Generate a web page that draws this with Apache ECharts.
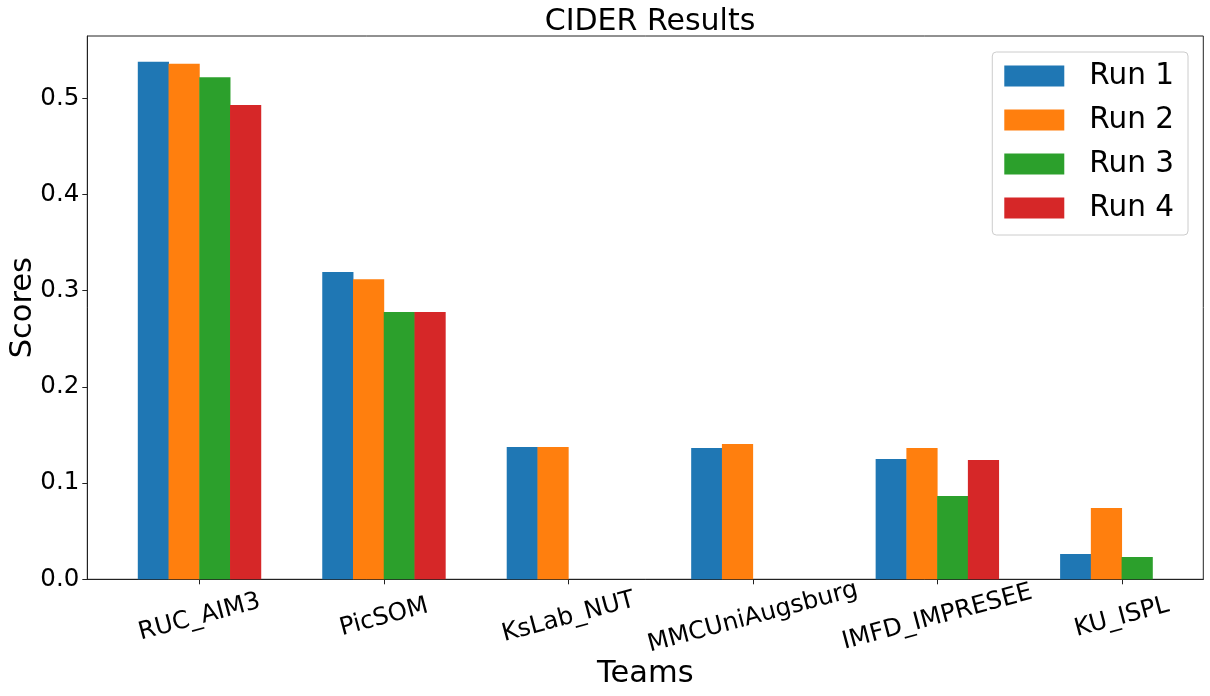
<!DOCTYPE html>
<html>
<head>
<meta charset="utf-8">
<script src="https://cdn.jsdelivr.net/npm/echarts@6/dist/echarts.min.js"></script>
<style>
  html, body { margin: 0; padding: 0; background: #fff; }
  #chart { width: 1210px; height: 696px; }
</style>
</head>
<body>
<div id="chart"></div>
<script>
// values, null = no bar drawn
const teams = ['RUC_AIM3', 'PicSOM', 'KsLab_NUT', 'MMCUniAugsburg', 'IMFD_IMPRESEE', 'KU_ISPL']
const runNames = ['Run 1', 'Run 2', 'Run 3', 'Run 4']
const run1 = [0.538, 0.3195, 0.1375, 0.1365, 0.125, 0.0263]
const run2 = [0.536, 0.312, 0.1375, 0.1406, 0.1365, 0.0741]
const run3 = [0.522, 0.278, null, null, 0.0866, 0.0232]
const run4 = [0.493, 0.278, null, null, 0.124, null]
const yTicks = [0, 0.1, 0.2, 0.3, 0.4, 0.5]
const colors = ['#1f77b4', '#ff7f0e', '#2ca02c', '#d62728']

const font = 'DejaVu Sans'
const barW = 1 / 6 // bar width in team units, 4 bars per team
const runs = [run1, run2, run3, run4]

const chart = echarts.init(document.getElementById('chart'))

const series = runs.map((vals, k) => {
  const offset = (k - 1.5) * barW
  const data = []
  vals.forEach((v, i) => {
    if (v !== null) data.push([i + offset, v])
  })
  return {
    name: runNames[k],
    type: 'bar',
    data: data,
    barWidth: 31.2,
    barGap: '-100%',
    itemStyle: { color: colors[k] },
    emphasis: { disabled: true },
    animation: false
  }
})

chart.setOption({
  animation: false,
  textStyle: { fontFamily: font },
  title: {
    text: 'CIDER Results',
    left: 645,
    textAlign: 'center',
    top: 2,
    textStyle: { fontFamily: font, fontSize: 30, fontWeight: 'normal', color: '#000' }
  },
  legend: {
    data: runNames,
    orient: 'vertical',
    right: 22,
    top: 52,
    itemWidth: 60,
    itemHeight: 21,
    itemGap: 14,
    icon: 'rect',
    padding: [9, 14, 12, 12],
    backgroundColor: '#fff',
    borderColor: '#cccccc',
    borderWidth: 1,
    borderRadius: 4,
    selectedMode: false,
    textStyle: { fontFamily: font, fontSize: 29.5, color: '#000', lineHeight: 29, padding: [0, 0, 0, 20] }
  },
  grid: {
    left: 87.3,
    right: 6.7,
    top: 36,
    bottom: 116.7,
    containLabel: false,
    outerBoundsMode: 'none',
    show: true,
    borderColor: '#222',
    borderWidth: 1
  },
  xAxis: {
    type: 'value',
    min: -0.6083,
    max: 5.4417,
    name: 'Teams',
    nameLocation: 'middle',
    nameGap: 79,
    nameMoveOverlap: false,
    nameTextStyle: { fontFamily: font, fontSize: 30.5, color: '#000' },
    splitLine: { show: false },
    axisLine: { show: true, onZero: false, lineStyle: { color: '#222', width: 1 } },
    axisTick: {
      show: true,
      length: 5,
      customValues: teams.map((t, i) => i),
      lineStyle: { color: '#222' }
    },
    axisLabel: {
      customValues: teams.map((t, i) => i),
      formatter: v => teams[Math.round(v)],
      rotate: 15,
      align: 'center',
      verticalAlign: 'middle',
      margin: 38,
      fontFamily: font,
      fontSize: 24.5,
      color: '#000'
    }
  },
  yAxis: {
    type: 'value',
    min: 0,
    max: 0.5648,
    name: 'Scores',
    nameLocation: 'middle',
    nameRotate: 90,
    nameGap: 49,
    nameMoveOverlap: false,
    nameTextStyle: { fontFamily: font, fontSize: 30.5, color: '#000' },
    splitLine: { show: false },
    axisLine: { show: true, onZero: false, lineStyle: { color: '#222', width: 1 } },
    axisTick: {
      show: true,
      length: 5,
      customValues: yTicks,
      lineStyle: { color: '#222' }
    },
    axisLabel: {
      customValues: yTicks,
      formatter: v => v.toFixed(1),
      margin: 8,
      fontFamily: font,
      fontSize: 24.5,
      color: '#000'
    }
  },
  series: series
})
</script>
</body>
</html>
